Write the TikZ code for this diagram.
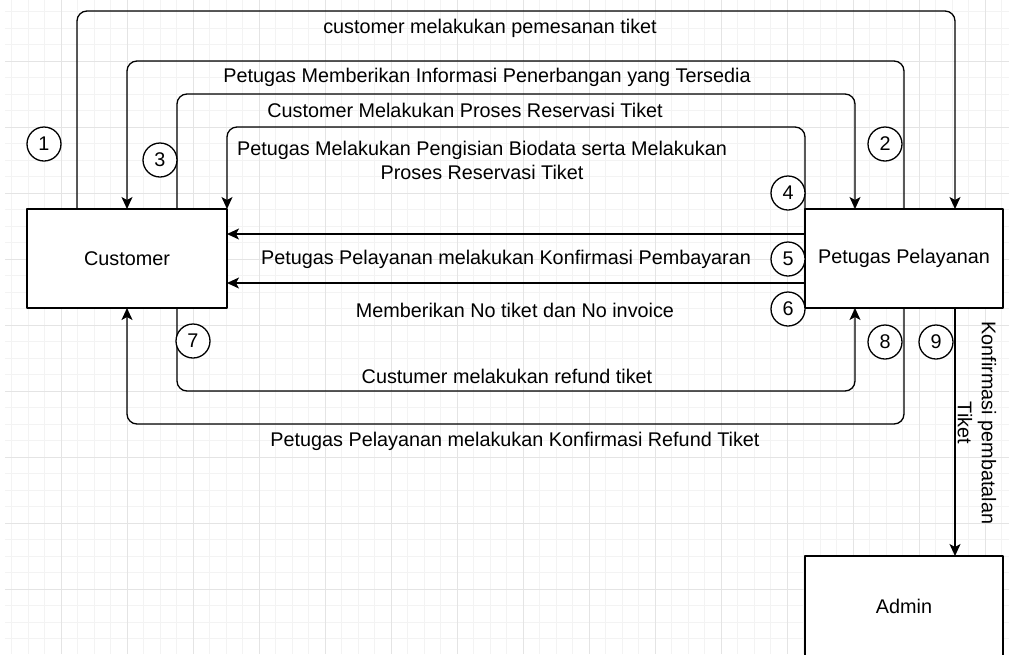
\documentclass[tikz,border=0pt]{standalone}
\usepackage{fontspec}
\setmainfont{Liberation Sans}
\usetikzlibrary{arrows.meta}
\definecolor{gridmajor}{HTML}{E4E4E4}
\definecolor{gridminor}{HTML}{F3F3F3}
\begin{document}
\begin{tikzpicture}[x=1pt, y=-1pt, font=\fontsize{19.8}{24}\selectfont, line join=round, >={Stealth[length=12pt,width=11pt,inset=3pt]},
	box/.style={draw, line width=1.4pt, fill=white, inner sep=0pt, outer sep=0pt},
	num/.style={draw, circle, line width=1.3pt, fill=white, minimum size=34pt, inner sep=0pt},
	flow/.style={->, line width=1.3pt, rounded corners=10pt},
	lbl/.style={inner sep=0pt, align=center}]
			\useasboundingbox (0,0) rectangle (1009,654);
			\fill[white] (0,0) rectangle (1009,654);
			\foreach \i in {1,...,61} \draw[gridminor, line width=1pt] ({-5+16.5*\i},0)--({-5+16.5*\i},654);
			\foreach \j in {1,...,40} \draw[gridminor, line width=1pt] (5,{-5+16.5*\j})--(1009,{-5+16.5*\j});
			\foreach \i in {1,...,16} \draw[gridmajor, line width=1pt] ({-5+66*\i},0)--({-5+66*\i},654);
			\foreach \j in {1,...,10} \draw[gridmajor, line width=1pt] (5,{-5+66*\j})--(1009,{-5+66*\j});
			\node[box, minimum width=200pt, minimum height=99pt] (cust) at (127,258.5) {Customer};
			\node[box, minimum width=198pt, minimum height=99pt] (petugas) at (904,258.5) {Petugas Pelayanan};
			\node[box, minimum width=198pt, minimum height=100pt] (admin) at (904,606) {Admin};
			\draw[flow] (cust.north -| 77,0)--(77,11)-|(petugas.north -| 955,0);
			\draw[flow] (petugas.north)--(904,61)-|(cust.north);
			\draw[flow] (cust.north -| 177,0)--(177,94)-|(petugas.north -| 855,0);
			\draw[flow] (petugas.north west)--(805,127)-|(cust.north east);
			\draw[flow] (petugas.west |- 0,234)--(cust.east |- 0,234);
			\draw[flow] (petugas.west |- 0,283)--(cust.east |- 0,283);
			\draw[flow] (cust.south -| 177,0)--(177,391)-|(petugas.south -| 855,0);
			\draw[flow] (petugas.south)--(904,424)-|(cust.south);
			\draw[flow] (petugas.south -| 955,0)--(admin.north -| 955,0);
			\node[lbl] (t1) at (490,28) {customer melakukan pemesanan tiket};
			\node[lbl] (t2) at (487,77) {Petugas Memberikan Informasi Penerbangan yang Tersedia};
			\node[lbl] (t3) at (465,110) {Customer Melakukan Proses Reservasi Tiket};
			\node[lbl] (t4) at (482,160) {Petugas Melakukan Pengisian Biodata serta Melakukan\\Proses Reservasi Tiket};
			\node[lbl] (t5) at (506,259) {Petugas Pelayanan melakukan Konfirmasi Pembayaran};
			\node[lbl] (t6) at (515,310) {Memberikan No tiket dan No invoice};
			\node[lbl] (t7) at (507,376) {Custumer melakukan refund tiket};
			\node[lbl] (t8) at (515,441) {Petugas Pelayanan melakukan Konfirmasi Refund Tiket};
			\node[lbl, rotate=-90] (t9) at (977,423) {Konfirmasi pembatalan\\Tiket};
			\node[num] (n1) at (44,144) {1};
			\node[num] (n2) at (885,144) {2};
			\node[num] (n3) at (160,160) {3};
			\node[num] (n4) at (788,193) {4};
			\node[num] (n5) at (788,259) {5};
			\node[num] (n6) at (788,309) {6};
			\node[num] (n7) at (193,341) {7};
			\node[num] (n8) at (885,342) {8};
			\node[num] (n9) at (936,342) {9};
		\end{tikzpicture}
\end{document}
